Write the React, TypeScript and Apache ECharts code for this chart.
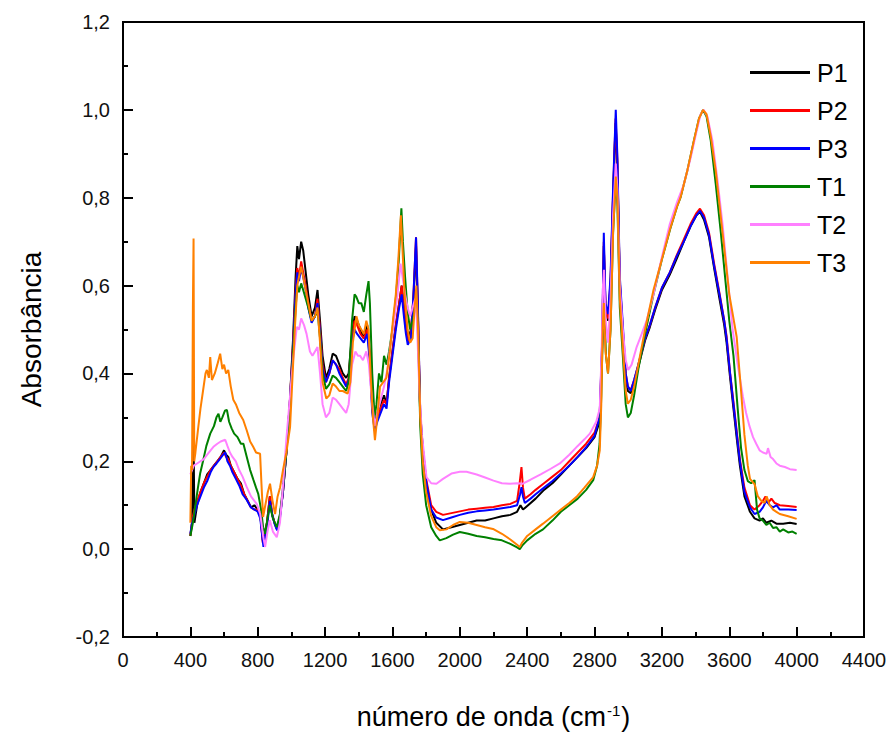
import React, { useEffect, useRef } from "react";
import * as echarts from "echarts";

const seriesNames = ["P1", "P2", "P3", "T1", "T2", "T3"];
const seriesColors = ["#000000", "#ff0000", "#0000ff", "#008000", "#ff80ff", "#ff8000"];
const xTicks = [0, 400, 800, 1200, 1600, 2000, 2400, 2800, 3200, 3600, 4000, 4400];
const yTicks = [-0.2, 0, 0.2, 0.4, 0.6, 0.8, 1.0, 1.2];

const p1: number[][] = [
  [400,0.03],[410,0.06],[418,0.30],[424,0.06],[440,0.10],[460,0.13],[480,0.15],[500,0.17],[520,0.18],[540,0.19],[560,0.20],[580,0.21],[600,0.225],[612,0.215],[625,0.21],[640,0.19],[660,0.175],[680,0.16],[700,0.15],[720,0.125],[740,0.11],[760,0.095],[780,0.10],[800,0.09],[815,0.08],[830,0.02],[840,0.035],[855,0.06],[872,0.12],[885,0.08],[900,0.06],[915,0.045],[930,0.07],[950,0.13],[970,0.22],[990,0.33],[1010,0.48],[1025,0.62],[1035,0.69],[1045,0.66],[1058,0.70],[1070,0.68],[1085,0.63],[1100,0.58],[1120,0.53],[1140,0.55],[1155,0.59],[1170,0.52],[1185,0.44],[1205,0.39],[1225,0.41],[1245,0.445],[1265,0.44],[1285,0.42],[1305,0.40],[1325,0.39],[1340,0.40],[1360,0.49],[1375,0.53],[1390,0.52],[1410,0.50],[1430,0.48],[1450,0.51],[1465,0.45],[1480,0.33],[1495,0.29],[1510,0.31],[1530,0.33],[1550,0.35],[1565,0.33],[1580,0.39],[1600,0.45],[1620,0.51],[1640,0.56],[1655,0.60],[1668,0.55],[1680,0.51],[1695,0.48],[1710,0.50],[1725,0.57],[1740,0.69],[1750,0.55],[1765,0.30],[1780,0.22],[1800,0.15],[1830,0.09],[1860,0.06],[1900,0.045],[1950,0.05],[2000,0.055],[2050,0.06],[2100,0.065],[2150,0.065],[2200,0.07],[2250,0.075],[2300,0.078],[2340,0.085],[2360,0.10],[2375,0.09],[2390,0.095],[2450,0.115],[2500,0.135],[2550,0.15],[2600,0.17],[2650,0.19],[2700,0.21],[2750,0.23],[2800,0.255],[2830,0.29],[2845,0.45],[2855,0.69],[2865,0.55],[2880,0.52],[2895,0.60],[2910,0.80],[2925,0.97],[2935,0.88],[2950,0.60],[2968,0.49],[2985,0.39],[2998,0.36],[3015,0.355],[3035,0.38],[3060,0.415],[3100,0.475],[3128,0.505],[3160,0.545],[3200,0.59],[3247,0.625],[3287,0.66],[3330,0.70],[3370,0.735],[3405,0.76],[3426,0.768],[3450,0.75],[3480,0.71],[3510,0.64],[3544,0.565],[3570,0.51],[3584,0.47],[3605,0.39],[3622,0.33],[3645,0.25],[3663,0.19],[3690,0.12],[3723,0.085],[3750,0.07],[3780,0.065],[3800,0.07],[3820,0.06],[3850,0.065],[3880,0.058],[3920,0.058],[3960,0.06],[4000,0.057]
];

const p2: number[][] = [
  [400,0.03],[412,0.07],[425,0.09],[440,0.11],[460,0.13],[480,0.15],[500,0.165],[520,0.18],[540,0.19],[560,0.20],[580,0.21],[600,0.22],[612,0.21],[625,0.205],[640,0.19],[660,0.175],[680,0.16],[700,0.145],[720,0.125],[740,0.11],[760,0.095],[780,0.09],[800,0.09],[815,0.08],[830,0.015],[842,0.03],[855,0.06],[872,0.12],[885,0.08],[900,0.06],[915,0.045],[930,0.07],[950,0.13],[970,0.22],[990,0.33],[1010,0.47],[1025,0.59],[1035,0.64],[1045,0.62],[1058,0.655],[1070,0.63],[1085,0.60],[1100,0.56],[1120,0.52],[1140,0.53],[1155,0.57],[1170,0.50],[1185,0.42],[1205,0.38],[1225,0.40],[1245,0.43],[1265,0.42],[1285,0.41],[1305,0.39],[1325,0.375],[1340,0.39],[1360,0.48],[1375,0.52],[1390,0.51],[1410,0.49],[1430,0.48],[1450,0.50],[1465,0.44],[1480,0.32],[1495,0.28],[1510,0.30],[1530,0.32],[1550,0.34],[1565,0.33],[1580,0.39],[1600,0.45],[1620,0.51],[1640,0.56],[1655,0.60],[1668,0.55],[1680,0.50],[1695,0.47],[1710,0.49],[1725,0.58],[1740,0.71],[1750,0.56],[1765,0.31],[1780,0.23],[1800,0.16],[1830,0.10],[1860,0.085],[1900,0.078],[1950,0.082],[2000,0.086],[2050,0.09],[2100,0.092],[2150,0.094],[2200,0.096],[2250,0.10],[2300,0.103],[2340,0.11],[2355,0.15],[2366,0.187],[2375,0.14],[2386,0.115],[2420,0.125],[2450,0.135],[2500,0.15],[2550,0.165],[2600,0.18],[2650,0.20],[2700,0.22],[2750,0.24],[2800,0.265],[2830,0.30],[2845,0.46],[2855,0.70],[2865,0.55],[2880,0.525],[2895,0.61],[2910,0.81],[2925,0.98],[2935,0.89],[2950,0.61],[2968,0.50],[2985,0.40],[2998,0.37],[3015,0.362],[3035,0.385],[3060,0.42],[3100,0.48],[3128,0.51],[3160,0.55],[3200,0.595],[3247,0.63],[3287,0.668],[3330,0.705],[3370,0.74],[3405,0.765],[3426,0.775],[3450,0.76],[3480,0.72],[3510,0.65],[3544,0.578],[3570,0.52],[3584,0.485],[3605,0.40],[3622,0.345],[3645,0.265],[3663,0.205],[3690,0.14],[3723,0.10],[3750,0.09],[3780,0.10],[3800,0.11],[3815,0.12],[3830,0.105],[3850,0.115],[3870,0.105],[3900,0.10],[3950,0.098],[4000,0.096]
];

const p3: number[][] = [
  [400,0.035],[410,0.06],[425,0.08],[440,0.10],[460,0.12],[480,0.14],[500,0.155],[520,0.175],[537,0.187],[555,0.195],[575,0.205],[595,0.215],[607,0.22],[620,0.20],[635,0.19],[650,0.175],[670,0.16],[690,0.145],[710,0.125],[735,0.112],[760,0.095],[785,0.089],[800,0.085],[815,0.07],[834,0.005],[845,0.03],[858,0.06],[872,0.11],[888,0.075],[902,0.055],[915,0.043],[932,0.07],[950,0.13],[970,0.22],[990,0.33],[1010,0.46],[1025,0.58],[1035,0.63],[1045,0.61],[1058,0.64],[1070,0.62],[1085,0.59],[1100,0.55],[1120,0.515],[1140,0.53],[1155,0.56],[1170,0.49],[1185,0.41],[1205,0.38],[1225,0.40],[1245,0.43],[1265,0.42],[1285,0.40],[1305,0.385],[1325,0.37],[1340,0.385],[1360,0.47],[1375,0.50],[1390,0.49],[1410,0.48],[1430,0.47],[1450,0.49],[1465,0.43],[1480,0.31],[1495,0.27],[1510,0.29],[1530,0.31],[1550,0.33],[1565,0.32],[1580,0.38],[1600,0.44],[1620,0.50],[1640,0.55],[1655,0.58],[1668,0.53],[1680,0.49],[1691,0.465],[1710,0.48],[1725,0.58],[1740,0.71],[1750,0.57],[1765,0.31],[1780,0.23],[1800,0.155],[1830,0.09],[1860,0.072],[1900,0.066],[1950,0.072],[2000,0.078],[2050,0.083],[2100,0.086],[2150,0.088],[2200,0.09],[2250,0.093],[2300,0.096],[2340,0.10],[2358,0.125],[2366,0.141],[2375,0.12],[2386,0.105],[2420,0.115],[2450,0.125],[2500,0.14],[2550,0.155],[2600,0.172],[2650,0.19],[2700,0.21],[2750,0.232],[2800,0.258],[2830,0.30],[2845,0.47],[2855,0.72],[2865,0.56],[2880,0.535],[2895,0.62],[2910,0.82],[2926,1.0],[2935,0.90],[2950,0.62],[2968,0.51],[2985,0.40],[2998,0.37],[3015,0.36],[3035,0.385],[3060,0.42],[3100,0.48],[3128,0.51],[3160,0.55],[3200,0.595],[3247,0.63],[3287,0.666],[3330,0.70],[3370,0.735],[3405,0.76],[3426,0.77],[3450,0.755],[3480,0.715],[3510,0.645],[3544,0.575],[3570,0.52],[3584,0.48],[3605,0.40],[3622,0.34],[3645,0.26],[3663,0.20],[3690,0.13],[3723,0.095],[3750,0.08],[3780,0.085],[3800,0.095],[3820,0.11],[3840,0.10],[3860,0.095],[3880,0.10],[3900,0.09],[3950,0.09],[4000,0.089]
];

const t1: number[][] = [
  [400,0.03],[415,0.06],[430,0.10],[445,0.14],[458,0.172],[475,0.20],[495,0.235],[518,0.263],[540,0.28],[555,0.30],[567,0.308],[578,0.29],[590,0.30],[605,0.315],[617,0.317],[630,0.29],[645,0.275],[660,0.263],[680,0.255],[700,0.24],[715,0.24],[735,0.21],[755,0.18],[775,0.157],[790,0.14],[803,0.126],[820,0.09],[832,0.05],[844,0.035],[858,0.07],[872,0.10],[890,0.07],[913,0.05],[932,0.08],[950,0.14],[970,0.22],[990,0.32],[1010,0.45],[1025,0.55],[1035,0.60],[1045,0.585],[1058,0.605],[1070,0.59],[1085,0.57],[1100,0.55],[1120,0.52],[1140,0.53],[1155,0.545],[1170,0.48],[1185,0.40],[1205,0.365],[1225,0.375],[1245,0.395],[1265,0.39],[1285,0.38],[1305,0.37],[1325,0.36],[1340,0.38],[1360,0.52],[1375,0.58],[1385,0.575],[1400,0.56],[1415,0.56],[1430,0.54],[1445,0.58],[1458,0.61],[1466,0.56],[1480,0.40],[1494,0.30],[1505,0.33],[1520,0.40],[1535,0.38],[1550,0.44],[1565,0.42],[1580,0.45],[1600,0.50],[1620,0.57],[1638,0.66],[1653,0.776],[1662,0.70],[1675,0.62],[1690,0.54],[1705,0.50],[1720,0.52],[1735,0.55],[1745,0.56],[1755,0.45],[1765,0.28],[1780,0.17],[1800,0.10],[1830,0.05],[1860,0.03],[1881,0.02],[1920,0.025],[1960,0.033],[2000,0.039],[2050,0.035],[2100,0.03],[2150,0.027],[2200,0.023],[2250,0.02],[2300,0.012],[2340,0.004],[2356,0.0],[2370,0.008],[2400,0.02],[2450,0.035],[2494,0.045],[2550,0.065],[2600,0.085],[2650,0.10],[2700,0.115],[2750,0.135],[2792,0.157],[2815,0.19],[2830,0.24],[2840,0.35],[2850,0.52],[2858,0.55],[2868,0.44],[2880,0.40],[2895,0.50],[2910,0.72],[2926,0.84],[2936,0.78],[2950,0.55],[2968,0.44],[2985,0.33],[2998,0.30],[3015,0.31],[3035,0.35],[3060,0.41],[3100,0.49],[3150,0.58],[3200,0.66],[3250,0.73],[3290,0.78],[3310,0.80],[3350,0.86],[3390,0.93],[3420,0.98],[3444,1.0],[3465,0.985],[3490,0.93],[3520,0.83],[3550,0.72],[3575,0.62],[3600,0.52],[3625,0.44],[3650,0.32],[3670,0.23],[3690,0.18],[3710,0.155],[3730,0.15],[3750,0.157],[3765,0.09],[3780,0.07],[3800,0.065],[3820,0.055],[3840,0.06],[3860,0.048],[3880,0.05],[3900,0.04],[3920,0.045],[3950,0.038],[3975,0.04],[4000,0.035]
];

const t2: number[][] = [
  [400,0.17],[420,0.19],[440,0.195],[460,0.20],[480,0.205],[500,0.215],[520,0.225],[537,0.233],[560,0.24],[580,0.245],[607,0.249],[620,0.235],[635,0.22],[650,0.21],[670,0.20],[690,0.18],[710,0.165],[735,0.141],[760,0.12],[780,0.11],[794,0.103],[815,0.08],[832,0.03],[844,0.005],[858,0.04],[872,0.066],[890,0.04],[913,0.027],[932,0.06],[951,0.149],[970,0.25],[990,0.34],[1010,0.43],[1032,0.506],[1045,0.50],[1058,0.525],[1075,0.51],[1090,0.49],[1110,0.45],[1125,0.44],[1140,0.45],[1155,0.46],[1170,0.40],[1185,0.33],[1205,0.30],[1225,0.31],[1245,0.345],[1265,0.34],[1285,0.33],[1305,0.32],[1325,0.31],[1340,0.33],[1360,0.42],[1380,0.45],[1395,0.44],[1408,0.44],[1425,0.43],[1445,0.45],[1460,0.42],[1480,0.33],[1495,0.28],[1510,0.31],[1530,0.34],[1550,0.37],[1570,0.41],[1590,0.47],[1610,0.52],[1630,0.58],[1648,0.65],[1660,0.62],[1675,0.58],[1690,0.55],[1705,0.53],[1720,0.55],[1735,0.57],[1745,0.52],[1760,0.36],[1775,0.26],[1802,0.164],[1830,0.15],[1861,0.149],[1900,0.16],[1950,0.172],[2000,0.176],[2040,0.176],[2100,0.17],[2150,0.163],[2200,0.156],[2250,0.15],[2297,0.149],[2340,0.15],[2374,0.149],[2420,0.158],[2480,0.17],[2540,0.183],[2594,0.195],[2650,0.215],[2700,0.235],[2740,0.25],[2772,0.263],[2810,0.29],[2831,0.32],[2842,0.45],[2850,0.60],[2856,0.636],[2866,0.52],[2880,0.47],[2895,0.57],[2910,0.76],[2926,0.878],[2936,0.82],[2950,0.60],[2968,0.50],[2985,0.43],[3000,0.408],[3020,0.42],[3050,0.46],[3080,0.49],[3109,0.52],[3150,0.58],[3200,0.665],[3247,0.74],[3290,0.79],[3330,0.83],[3370,0.89],[3405,0.95],[3430,0.99],[3448,1.0],[3470,0.985],[3500,0.93],[3530,0.84],[3560,0.74],[3590,0.62],[3620,0.50],[3650,0.42],[3681,0.347],[3700,0.31],[3720,0.28],[3741,0.255],[3760,0.24],[3780,0.225],[3800,0.22],[3822,0.217],[3830,0.23],[3845,0.21],[3860,0.205],[3880,0.195],[3900,0.19],[3930,0.187],[3960,0.182],[4000,0.18]
];

const t3: number[][] = [
  [400,0.06],[405,0.19],[410,0.18],[415,0.55],[419,0.707],[423,0.20],[430,0.22],[447,0.278],[460,0.32],[475,0.36],[490,0.40],[498,0.408],[510,0.39],[518,0.437],[528,0.385],[545,0.40],[560,0.42],[577,0.445],[590,0.41],[600,0.42],[612,0.40],[625,0.408],[640,0.37],[655,0.34],[670,0.33],[690,0.31],[714,0.294],[735,0.27],[755,0.245],[773,0.233],[790,0.22],[814,0.217],[822,0.15],[832,0.073],[845,0.10],[860,0.13],[873,0.149],[888,0.11],[903,0.08],[918,0.12],[933,0.141],[950,0.18],[970,0.22],[992,0.278],[1010,0.42],[1021,0.506],[1035,0.60],[1045,0.62],[1058,0.643],[1070,0.62],[1085,0.59],[1100,0.56],[1120,0.52],[1140,0.53],[1155,0.55],[1170,0.47],[1185,0.38],[1207,0.343],[1225,0.35],[1245,0.377],[1265,0.37],[1285,0.36],[1305,0.36],[1334,0.354],[1350,0.38],[1365,0.47],[1386,0.53],[1400,0.51],[1415,0.50],[1430,0.49],[1445,0.52],[1458,0.50],[1470,0.40],[1484,0.30],[1496,0.248],[1510,0.30],[1526,0.37],[1545,0.38],[1564,0.39],[1585,0.45],[1603,0.52],[1620,0.58],[1635,0.66],[1650,0.76],[1660,0.68],[1672,0.58],[1690,0.50],[1705,0.47],[1720,0.48],[1732,0.55],[1742,0.60],[1752,0.50],[1765,0.30],[1780,0.20],[1800,0.13],[1830,0.075],[1860,0.05],[1881,0.043],[1920,0.045],[1960,0.055],[2000,0.062],[2050,0.06],[2100,0.055],[2150,0.05],[2197,0.046],[2250,0.035],[2300,0.022],[2340,0.01],[2356,0.005],[2370,0.015],[2400,0.03],[2450,0.045],[2494,0.058],[2550,0.075],[2600,0.09],[2650,0.105],[2693,0.119],[2740,0.14],[2792,0.164],[2815,0.19],[2831,0.225],[2840,0.33],[2848,0.50],[2855,0.56],[2865,0.45],[2880,0.40],[2895,0.50],[2910,0.72],[2926,0.848],[2936,0.80],[2950,0.57],[2968,0.46],[2985,0.36],[2998,0.331],[3015,0.34],[3035,0.37],[3060,0.42],[3100,0.50],[3150,0.59],[3200,0.66],[3247,0.727],[3290,0.78],[3310,0.80],[3350,0.86],[3390,0.93],[3420,0.98],[3444,1.0],[3465,0.99],[3490,0.94],[3520,0.86],[3563,0.71],[3600,0.58],[3644,0.483],[3670,0.36],[3690,0.26],[3710,0.19],[3723,0.16],[3750,0.148],[3770,0.12],[3790,0.11],[3810,0.105],[3822,0.12],[3840,0.10],[3860,0.09],[3880,0.085],[3900,0.08],[3950,0.075],[4000,0.069]
];

const seriesData = [p1, p2, p3, t1, t2, t3];
const FONT = "'Liberation Sans', Arial, sans-serif";

export default function App() {
  const ref = useRef<HTMLDivElement>(null);
  useEffect(() => {
    if (!ref.current) return;
    const chart = echarts.init(ref.current, undefined, { renderer: "svg" });
    chart.setOption({
      animation: false,
      backgroundColor: "#ffffff",
      grid: { left: 123, right: 26, top: 22, bottom: 96, show: true, borderColor: "#000", borderWidth: 2, backgroundColor: "transparent" },
      legend: {
        orient: "vertical",
        left: 745,
        top: 55,
        icon: "rect",
        itemWidth: 60,
        itemHeight: 3,
        itemGap: 13,
        data: seriesNames,
        textStyle: { fontSize: 25, color: "#000", fontFamily: FONT, padding: [0, 0, 0, 2] },
      },
      xAxis: {
        type: "value",
        min: xTicks[0],
        max: xTicks[xTicks.length - 1],
        interval: 400,
        name: "{a|número de onda (cm}{s|-1}{a|)}",
        nameLocation: "middle",
        nameGap: 66,
        nameTextStyle: {
          rich: {
            a: { fontSize: 27, color: "#000", fontFamily: FONT },
            s: { fontSize: 15, color: "#000", fontFamily: FONT, verticalAlign: "top", padding: [0, 1, 12, 1] },
          },
        },
        axisLine: { onZero: false, lineStyle: { color: "#000", width: 2 } },
        axisTick: { inside: true, length: 10, lineStyle: { color: "#000", width: 2 } },
        minorTick: { show: true, splitNumber: 2, length: 5, lineStyle: { color: "#000", width: 2 } },
        axisLabel: { fontSize: 20, color: "#111", fontFamily: FONT, margin: 13, formatter: (v: number) => String(v) },
        splitLine: { show: false },
      },
      yAxis: {
        type: "value",
        min: yTicks[0],
        max: yTicks[yTicks.length - 1],
        interval: 0.2,
        name: "Absorbância",
        nameLocation: "middle",
        nameGap: 78,
        nameTextStyle: { fontSize: 28, color: "#000", fontFamily: FONT },
        axisLine: { onZero: false, lineStyle: { color: "#000", width: 2 } },
        axisTick: { inside: true, length: 10, lineStyle: { color: "#000", width: 2 } },
        minorTick: { show: true, splitNumber: 2, length: 5, lineStyle: { color: "#000", width: 2 } },
        axisLabel: {
          fontSize: 20,
          color: "#111",
          fontFamily: FONT,
          margin: 13,
          formatter: (v: number) => (Math.abs(v) < 1e-9 ? "0,0" : v.toFixed(1).replace(".", ",")),
        },
        splitLine: { show: false },
      },
      series: seriesNames.map((name, i) => ({
        name,
        type: "line",
        data: seriesData[i],
        symbol: "none",
        showSymbol: false,
        color: seriesColors[i],
        lineStyle: { color: seriesColors[i], width: 2 },
      })),
    });
    return () => chart.dispose();
  }, []);
  return <div ref={ref} style={{ position: "fixed", left: 0, top: 0, width: 890, height: 735, background: "#fff" }} />;
}
